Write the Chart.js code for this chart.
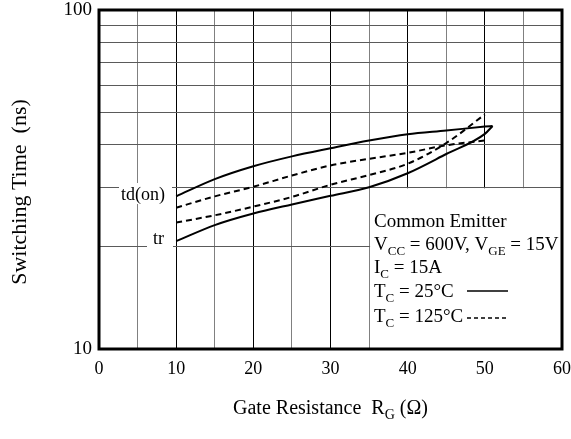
<!DOCTYPE html>
<html>
<head>
<meta charset="utf-8">
<script src="https://cdn.jsdelivr.net/npm/chart.js@4.4.1/dist/chart.umd.min.js"></script>
<style>
  body { margin: 0; background: #fff; }
  #wrap { width: 571px; height: 439px; }
</style>
</head>
<body>
<div id="wrap"><canvas id="chart" width="571" height="439"></canvas></div>
<script>
// gate resistance (ohm) where the curves were read
var rg25C = [10, 15, 20, 25, 30, 35, 40, 45, 50, 51];
var rg125C = [10, 15, 20, 25, 30, 35, 40, 45, 50];
// switching times (ns)
var tdOn25C = [28.2, 31.7, 34.6, 37.0, 39.1, 41.2, 43.0, 44.1, 45.3, 45.5];
var tr25C = [20.8, 23.2, 25.1, 26.7, 28.3, 30.0, 33.0, 37.6, 43.1, 45.5];
var tdOn125C = [26.1, 28.2, 30.1, 32.5, 34.8, 36.4, 37.9, 39.9, 41.2];
var tr125C = [23.6, 24.8, 26.3, 28.1, 30.5, 32.6, 35.2, 40.5, 49.2];
// axis ticks
var yGridTicks = [10, 20, 30, 40, 50, 60, 70, 80, 90, 100];
var yLabelTicks = [10, 100];
var xLabelEvery = 10;

var FONT = '"Liberation Serif", "Times New Roman", serif';

function pts(xs, ys) {
  return xs.map(function(x, i) { return { x: x, y: ys[i] }; });
}

function curve(xs, ys, dashed) {
  return {
    data: pts(xs, ys),
    borderColor: '#000',
    borderWidth: 2,
    borderDash: dashed ? [6, 4] : [],
    pointRadius: 0,
    fill: false,
    cubicInterpolationMode: 'monotone'
  };
}

// text with subscripts: parts = [[text, isSub], ...]
function richWidth(ctx, parts, size) {
  var w = 0;
  parts.forEach(function(p) {
    ctx.font = (p[1] ? Math.round(size * 0.68) : size) + 'px ' + FONT;
    w += ctx.measureText(p[0]).width;
  });
  return w;
}
function richText(ctx, parts, x, y, size) {
  var cx = x;
  parts.forEach(function(p) {
    ctx.font = (p[1] ? Math.round(size * 0.68) : size) + 'px ' + FONT;
    ctx.fillText(p[0], cx, p[1] ? y + size * 0.32 : y);
    cx += ctx.measureText(p[0]).width;
  });
}

var annotate = {
  id: 'annotate',
  beforeDatasetsDraw: function(chart) {
    var ctx = chart.ctx, a = chart.chartArea;
    var xs = chart.scales.x, ys = chart.scales.y;
    ctx.save();
    ctx.fillStyle = '#fff';
    // legend panel hides the grid
    var lx = xs.getPixelForValue(35) + 1, ly = ys.getPixelForValue(30) + 1;
    ctx.fillRect(lx, ly, a.right - lx, a.bottom - ly);
    // label backgrounds
    ctx.fillRect(119, 183, 53, 21);
    ctx.fillRect(147, 228, 26, 23);
    ctx.restore();
  },
  afterDraw: function(chart) {
    var ctx = chart.ctx, a = chart.chartArea;
    ctx.save();
    ctx.fillStyle = '#000';
    ctx.strokeStyle = '#000';

    // frame
    ctx.lineWidth = 3;
    ctx.strokeRect(a.left, a.top, a.right - a.left, a.bottom - a.top);

    ctx.textBaseline = 'middle';
    ctx.textAlign = 'left';
    ctx.font = '18px ' + FONT;
    ctx.fillText('td(on)', 121, 195);
    ctx.fillText('tr', 153, 239);

    // conditions
    var size = 19, tx = 374;
    richText(ctx, [['Common Emitter']], tx, 222, size);
    richText(ctx, [['V'], ['CC', 1], [' = 600V, V'], ['GE', 1], [' = 15V']], tx, 245, size);
    richText(ctx, [['I'], ['C', 1], [' = 15A']], tx, 268, size);
    richText(ctx, [['T'], ['C', 1], [' = 25\u00B0C']], tx, 292, size);
    richText(ctx, [['T'], ['C', 1], [' = 125\u00B0C']], tx, 317, size);

    ctx.lineWidth = 1.5;
    ctx.beginPath();
    ctx.moveTo(467, 291); ctx.lineTo(508, 291);
    ctx.stroke();
    ctx.setLineDash([4, 3]);
    ctx.beginPath();
    ctx.moveTo(467, 318); ctx.lineTo(508, 318);
    ctx.stroke();
    ctx.setLineDash([]);

    // x axis title
    var xt = [['Gate Resistance  R'], ['G', 1], [' (\u03A9)']];
    var w = richWidth(ctx, xt, 20);
    richText(ctx, xt, (a.left + a.right) / 2 - w / 2, 409, 20);

    // y axis title
    ctx.translate(20, 192);
    ctx.rotate(-Math.PI / 2);
    ctx.textAlign = 'center';
    ctx.font = '22px ' + FONT;
    ctx.fillText('Switching Time  (ns)', 0, 0);
    ctx.restore();
  }
};

new Chart(document.getElementById('chart'), {
  type: 'line',
  data: {
    datasets: [
      curve(rg25C, tdOn25C, false),
      curve(rg25C, tr25C, false),
      curve(rg125C, tdOn125C, true),
      curve(rg125C, tr125C, true)
    ]
  },
  options: {
    responsive: false,
    animation: false,
    layout: { padding: { top: 10, right: 9, left: 0, bottom: 0 } },
    plugins: { legend: { display: false }, tooltip: { enabled: false } },
    scales: {
      x: {
        type: 'linear',
        min: 0,
        max: 60,
        afterFit: function(s) { s.height = 90; s.paddingLeft = 0; s.paddingRight = 0; },
        ticks: {
          stepSize: 5,
          autoSkip: false,
          maxRotation: 0,
          padding: 9,
          color: '#000',
          font: { family: FONT, size: 18 },
          callback: function(v) { return v % xLabelEvery === 0 ? v : ''; }
        },
        grid: {
          drawTicks: false,
          lineWidth: 1,
          color: function(c) { return c.tick && c.tick.value % 10 === 0 ? '#000' : '#808080'; }
        },
        border: { display: false }
      },
      y: {
        type: 'logarithmic',
        min: 10,
        max: 100,
        afterFit: function(s) { s.width = 99; s.paddingTop = 0; s.paddingBottom = 0; },
        afterBuildTicks: function(s) {
          s.ticks = yGridTicks.map(function(v) { return { value: v }; });
        },
        ticks: {
          autoSkip: false,
          padding: 7,
          color: '#000',
          font: { family: FONT, size: 19 },
          callback: function(v) { return yLabelTicks.indexOf(v) >= 0 ? String(v) : ''; }
        },
        grid: { drawTicks: false, lineWidth: 1, color: '#5a5a5a' },
        border: { display: false }
      }
    }
  },
  plugins: [annotate]
});
</script>
</body>
</html>
